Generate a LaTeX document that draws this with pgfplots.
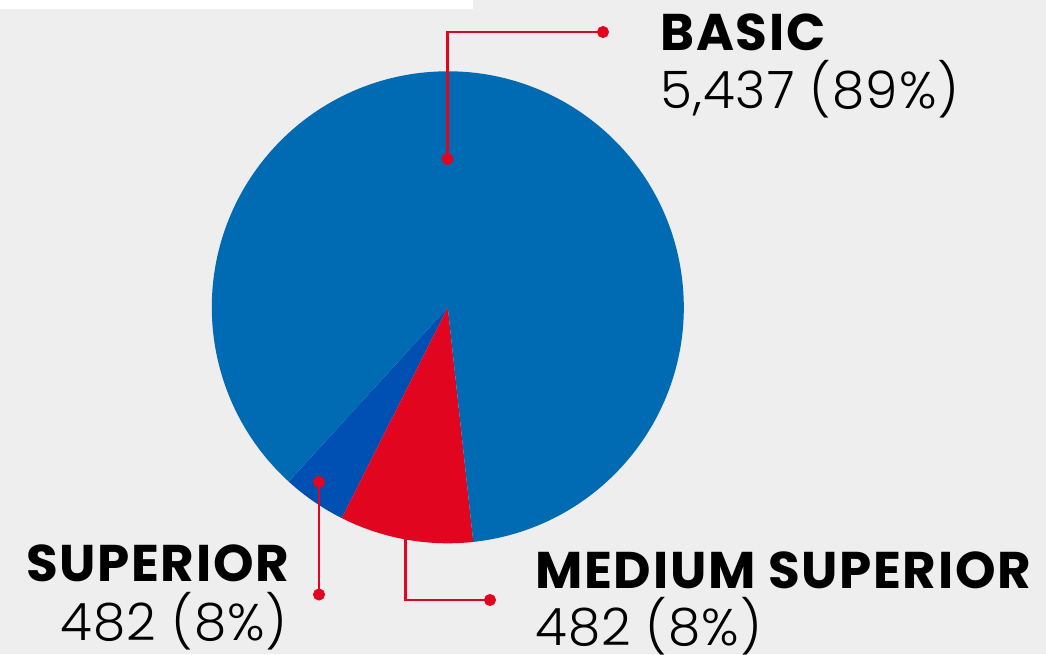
\documentclass[border=0pt]{standalone}
\usepackage{pgfplots}
\pgfplotsset{compat=1.18}
\usepackage{fontspec}
\setmainfont{Poppins}
\newfontfamily\headfont{Poppins}[LetterSpace=3.2]
\newfontfamily\lightfont{Poppins Light}[LetterSpace=2]
\definecolor{bg}{HTML}{EEEEEE}
\definecolor{basicblue}{HTML}{006AB3}
\definecolor{supblue}{HTML}{0050B4}
\definecolor{pred}{HTML}{E20520}
% pie shares (percent of the circle), counter-clockwise from the start angle
\def\vSup{4.36}
\def\vMed{9.14}
\def\vBas{86.50}
\def\startangle{227.6}
\pgfmathsetmacro\aA{\startangle}
\pgfmathsetmacro\aB{\aA+3.6*\vSup}
\pgfmathsetmacro\aC{\aB+3.6*\vMed}
\pgfmathsetmacro\aD{\aC+3.6*\vBas}
\def\R{118pt}
\begin{document}
\begin{tikzpicture}
\begin{axis}[
  width=523pt, height=327pt, scale only axis,
  xmin=0, xmax=1046, ymin=0, ymax=654,
  hide axis,
]
\fill[bg] (axis cs:0,0) rectangle (axis cs:1046,654);
\fill[white] (axis cs:0,645.3) rectangle (axis cs:473,654);
% medium superior leader (starts under the pie)
\addplot[pred, line width=1.25pt, mark=none] coordinates {(405.7,140) (405.7,54) (490,54)};
% pie
\fill[supblue] (axis cs:447.8,346.7) -- ++(\aA:\R) arc[start angle=\aA, end angle=\aB, radius=\R] -- cycle;
\fill[pred] (axis cs:447.8,346.7) -- ++(\aB:\R) arc[start angle=\aB, end angle=\aC, radius=\R] -- cycle;
\fill[basicblue] (axis cs:447.8,346.7) -- ++(\aC:\R) arc[start angle=\aC, end angle=\aD, radius=\R] -- cycle;
% leaders
\addplot[pred, line width=1.25pt, mark=none] coordinates {(603,622) (447.5,622) (447.5,495)};
\addplot[pred, line width=1.25pt, mark=none] coordinates {(319,172) (319,59.5)};
\addplot[pred, only marks, mark=*, mark size=2.8pt, mark options={fill=pred, draw=pred}] coordinates {(603,622) (447.5,495) (319,172) (319,59.5) (490,54)};
% labels
\node[anchor=base west, inner sep=0pt, font=\headfont\fontsize{25.8}{30}\selectfont\bfseries] at (axis cs:660,603.3) {BASIC};
\node[anchor=base west, inner sep=0pt, font=\lightfont\fontsize{25.8}{30}\selectfont] at (axis cs:660,545.7) {5,437 (89\%)};
\node[anchor=base east, inner sep=0pt, font=\headfont\fontsize{25.8}{30}\selectfont\bfseries] at (axis cs:289.3,72.3) {SUPERIOR};
\node[anchor=base east, inner sep=0pt, font=\lightfont\fontsize{25.8}{30}\selectfont] at (axis cs:288,13.3) {482 (8\%)};
\node[anchor=base west, inner sep=0pt, font=\headfont\fontsize{25.8}{30}\selectfont\bfseries] at (axis cs:535,65.7) {MEDIUM SUPERIOR};
\node[anchor=base west, inner sep=0pt, font=\lightfont\fontsize{25.8}{30}\selectfont] at (axis cs:535,9) {482 (8\%)};
\end{axis}
\end{tikzpicture}
\end{document}
